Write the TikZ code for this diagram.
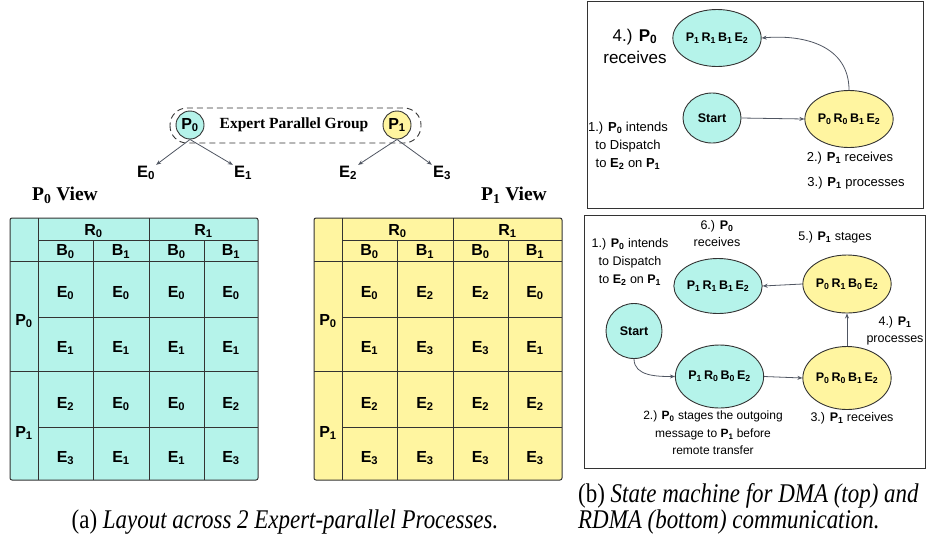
\documentclass[tikz,border=0pt]{standalone}
\usepackage{fontspec}
\setmainfont{Liberation Serif}
\setsansfont{Liberation Sans}
\newfontfamily\capfont[FakeStretch=0.85]{Liberation Serif}
\usetikzlibrary{shapes.geometric,arrows.meta}
\definecolor{cyanfill}{RGB}{181,243,234}
\definecolor{yellowfill}{RGB}{255,245,160}
\definecolor{linecol}{RGB}{51,51,51}
\definecolor{arrowcol}{RGB}{80,86,98}
\newcommand\sbs[1]{\textsubscript{#1}}
\newcommand\fsz[2]{\fontsize{#1}{#2}\selectfont}
\tikzset{
  cell/.style={font={\sffamily\bfseries\fsz{16}{18}}, inner sep=0},
  state/.style={ellipse, draw=linecol, line width=0.9pt, inner sep=0, font={\sffamily\bfseries\fsz{12.5}{14}}},
  ann/.style={font={\sffamily\fsz{13}{18}}, align=center, inner sep=0},
  arr/.style={draw=arrowcol, line width=0.8pt, -{Stealth[length=5pt,width=4pt]}},
  tline/.style={draw=linecol, line width=1pt},
  panel/.style={draw=linecol, line width=1pt},
  elab/.style={font={\sffamily\bfseries\fsz{16.5}{18}}, inner sep=1pt},
}
\begin{document}
\begin{tikzpicture}[x=1pt,y=-1pt]
\useasboundingbox (0,0) rectangle (928,539);

% ---------- Expert parallel group ----------
\draw[linecol, line width=0.9pt, dash pattern=on 6pt off 4pt, rounded corners=17pt] (170,108) rectangle (421,143);
\node[circle, draw=linecol, line width=0.9pt, fill=cyanfill, minimum size=28pt, inner sep=0, font={\sffamily\bfseries\fsz{16}{18}}] (gp0) at (190,125) {P\sbs{0}};
\node[circle, draw=linecol, line width=0.9pt, fill=yellowfill, minimum size=28pt, inner sep=0, font={\sffamily\bfseries\fsz{16}{18}}] (gp1) at (397,125) {P\sbs{1}};
\node[font={\rmfamily\bfseries\fsz{15.5}{18}}, inner sep=0] (grp) at (294,125) {Expert Parallel Group};
\node[elab] (e0) at (146,173) {E\sbs{0}};
\node[elab] (e1) at (243,173) {E\sbs{1}};
\node[elab] (e2) at (348,173) {E\sbs{2}};
\node[elab] (e3) at (442,173) {E\sbs{3}};
\draw[arr] (gp0.south) -- (e0.north east);
\draw[arr] (gp0.south) -- (e1.north west);
\draw[arr] (gp1.south) -- (e2.north east);
\draw[arr] (gp1.south) -- (e3.north west);

\node[font={\rmfamily\bfseries\fsz{19.5}{20}}, inner sep=0] (v0) at (65,195) {P\sbs{0} View};
\node[font={\rmfamily\bfseries\fsz{19.5}{20}}, inner sep=0] (v1) at (514,195) {P\sbs{1} View};

% ---------- tables ----------
\foreach \sx/\col/\tab in {0/cyanfill/L, 304/yellowfill/R}{
\begin{scope}[shift={(\sx,0)}]
  \filldraw[fill=\col, draw=linecol, line width=1pt, rounded corners=2pt] (10,218) rectangle (258,480);
  \draw[tline] (38,218)--(38,480) (149,218)--(149,480) (93,240)--(93,480) (204,240)--(204,480)
    (38,240)--(258,240) (10,261)--(258,261) (38,317)--(258,317) (10,371)--(258,371) (38,427)--(258,427);
  \node[cell] (\tab-r0) at (93.5,231) {R\sbs{0}};
  \node[cell] (\tab-r1) at (203.5,231) {R\sbs{1}};
  \node[cell] (\tab-b1) at (65.5,251.5) {B\sbs{0}};
  \node[cell] (\tab-b2) at (121,251.5) {B\sbs{1}};
  \node[cell] (\tab-b3) at (176.5,251.5) {B\sbs{0}};
  \node[cell] (\tab-b4) at (231,251.5) {B\sbs{1}};
  \node[cell] (\tab-p0) at (24,321) {P\sbs{0}};
  \node[cell] (\tab-p1) at (24,433) {P\sbs{1}};
\end{scope}
}
% left table entries
\foreach \r/\y/\a/\b/\c/\d in {1/293/0/0/0/0, 2/348/1/1/1/1, 3/404/2/0/0/2, 4/458/3/1/1/3}{
  \node[cell] (L-\r-1) at (65.5,\y) {E\sbs{\a}};
  \node[cell] (L-\r-2) at (121,\y) {E\sbs{\b}};
  \node[cell] (L-\r-3) at (176.5,\y) {E\sbs{\c}};
  \node[cell] (L-\r-4) at (231,\y) {E\sbs{\d}};
}
% right table entries
\foreach \r/\y/\a/\b/\c/\d in {1/293/0/2/2/0, 2/348/1/3/3/1, 3/404/2/2/2/2, 4/458/3/3/3/3}{
  \node[cell] (R-\r-1) at (369.5,\y) {E\sbs{\a}};
  \node[cell] (R-\r-2) at (425,\y) {E\sbs{\b}};
  \node[cell] (R-\r-3) at (480.5,\y) {E\sbs{\c}};
  \node[cell] (R-\r-4) at (535,\y) {E\sbs{\d}};
}

% ---------- DMA panel ----------
\draw[panel] (587,1) rectangle (923,208);
\node[state, fill=cyanfill, minimum width=67pt, minimum height=57pt] (tc) at (717,38) {P\sbs{1}\,R\sbs{1}\,B\sbs{1}\,E\sbs{2}};
\node[state, fill=cyanfill, minimum width=58pt, minimum height=50pt, font={\sffamily\bfseries\fsz{12.5}{14}}] (ts) at (712,118) {Start};
\node[state, fill=yellowfill, minimum width=70pt, minimum height=57pt] (ty) at (849,119) {P\sbs{0}\,R\sbs{0}\,B\sbs{1}\,E\sbs{2}};
\draw[arr] (ts.east) -- (ty.west);
\draw[arr] (ty.north) to[out=90, in=5, looseness=1.1] (tc.east);
\node[ann, font={\sffamily\fsz{17}{22}}] (t4) at (635,46) {4.) \textbf{P\sbs{0}}\\receives};
\node[ann] (t1) at (628,146) {1.) \textbf{P\sbs{0}} intends\\to Dispatch\\to \textbf{E\sbs{2}} on \textbf{P\sbs{1}}};
\node[ann] (t2) at (850,158) {2.) \textbf{P\sbs{1}} receives};
\node[ann] (t3) at (856,183) {3.) \textbf{P\sbs{1}} processes};

% ---------- RDMA panel ----------
\draw[panel] (584,215) rectangle (925,468);
\node[state, fill=cyanfill, minimum width=63pt, minimum height=55pt] (bc1) at (718,286) {P\sbs{1}\,R\sbs{1}\,B\sbs{1}\,E\sbs{2}};
\node[state, fill=yellowfill, minimum width=70pt, minimum height=58pt] (by2) at (847,284) {P\sbs{0}\,R\sbs{1}\,B\sbs{0}\,E\sbs{2}};
\node[state, fill=cyanfill, minimum width=56pt, minimum height=55pt, font={\sffamily\bfseries\fsz{12.5}{14}}] (bs) at (634,331) {Start};
\node[state, fill=cyanfill, minimum width=75pt, minimum height=63pt] (bc2) at (719.5,376.5) {P\sbs{1}\,R\sbs{0}\,B\sbs{0}\,E\sbs{2}};
\node[state, fill=yellowfill, minimum width=70pt, minimum height=63pt] (by1) at (847,378) {P\sbs{0}\,R\sbs{0}\,B\sbs{1}\,E\sbs{2}};
\draw[arr] (bs.south) to[out=-90, in=180] (bc2.west);
\draw[arr] (bc2.east) -- (by1.west);
\draw[arr] (by1.north) -- (by2.south);
\draw[arr] (by2.west) -- (bc1.east);
\node[ann, font={\sffamily\fsz{12.5}{18}}] (b1) at (630,262) {1.) \textbf{P\sbs{0}} intends\\to Dispatch\\to \textbf{E\sbs{2}} on \textbf{P\sbs{1}}};
\node[ann, font={\sffamily\fsz{12.5}{17}}] (b6) at (717,234) {6.) \textbf{P\sbs{0}}\\receives};
\node[ann, font={\sffamily\fsz{12.5}{17}}] (b5) at (835,237) {5.) \textbf{P\sbs{1}} stages};
\node[ann, font={\sffamily\fsz{12.5}{17}}] (b4) at (895,331) {4.) \textbf{P\sbs{1}}\\processes};
\node[ann, font={\sffamily\fsz{12}{17.5}}] (b2) at (713,433) {2.) \textbf{P\sbs{0}} stages the outgoing\\message to \textbf{P\sbs{1}} before\\remote transfer};
\node[ann, font={\sffamily\fsz{12.5}{17}}] (b3) at (852,418) {3.) \textbf{P\sbs{1}} receives};

% ---------- captions ----------
\node[anchor=base, inner sep=0, font={\capfont\fsz{27}{24}}] (capa) at (285,528) {(a) \textit{Layout across 2 Expert-parallel Processes.}};
\node[anchor=base west, inner sep=0, align=left, font={\capfont\fsz{27}{23}}] (capb) at (578,528) {(b) \textit{State machine for DMA (top) and}\\\textit{RDMA (bottom) communication.}};
\end{tikzpicture}
\end{document}
